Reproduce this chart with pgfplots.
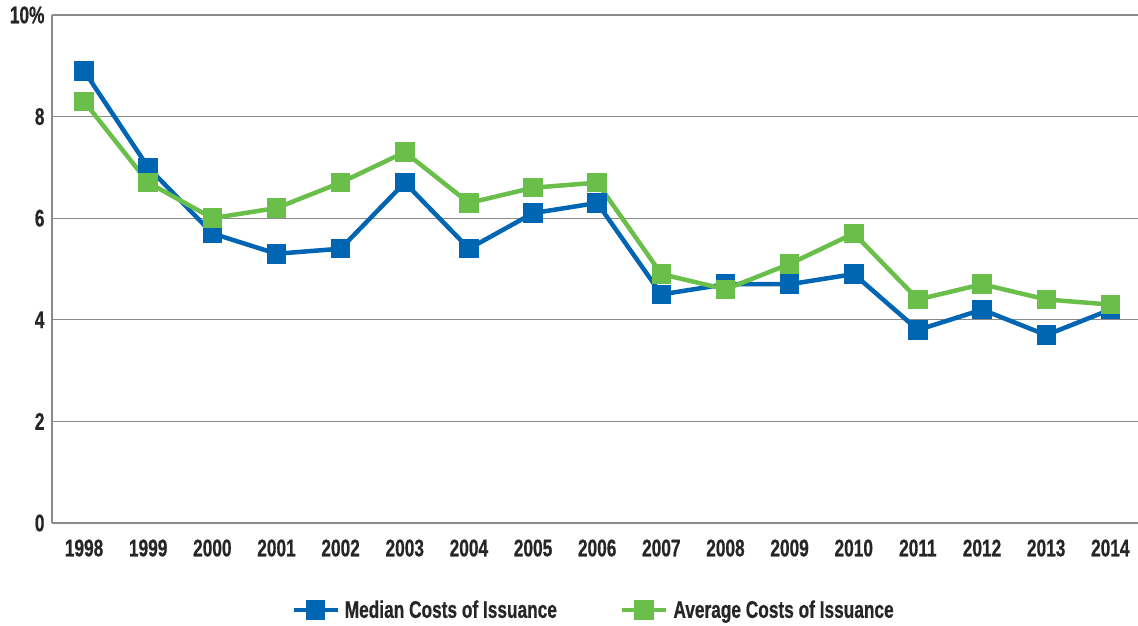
\documentclass[border=0pt]{standalone}
\usepackage{fontspec}
\setmainfont{Liberation Sans}[FakeStretch=0.72, BoldFeatures={FakeBold=0.6}]
\usepackage{pgfplots}
\pgfplotsset{compat=1.18}
\definecolor{cblue}{HTML}{0066B3}
\definecolor{cgreen}{HTML}{6ABF4B}
\definecolor{cgrid}{HTML}{8A8A8A}
\begin{document}
\begin{tikzpicture}[x=1pt,y=1pt]
\useasboundingbox (0,0) rectangle (1138,626);
\begin{axis}[
  at={(52pt,103pt)}, anchor=south west,
  scale only axis, width=1086pt, height=508pt,
  xmin=1997.5, xmax=2014.43,
  ymin=0, ymax=10,
  axis x line*=bottom, axis y line*=left,
  axis line style={cgrid, line width=1.3pt, -},
  xtick={1998,...,2014},
  xticklabels={1998,1999,2000,2001,2002,2003,2004,2005,2006,2007,2008,2009,2010,2011,2012,2013,2014},
  ytick={0,2,4,6,8,10},
  yticklabels={0,2,4,6,8,10\%},
  major tick length=0pt,
  ymajorgrids, grid style={cgrid, line width=1.2pt},
  ticklabel style={font=\fontsize{24}{27}\selectfont\bfseries, text=black!85},
  xticklabel style={yshift=-13pt},
  yticklabel style={xshift=-4pt},
  legend style={at={(0.5,-0.171)}, anchor=center, draw=none, fill=none,
    font=\fontsize{24}{27}\selectfont\bfseries, text=black!85,
    nodes={inner xsep=5pt}},
  legend columns=2,
  /tikz/every even column/.append style={column sep=58pt},
  legend image code/.code={\draw[#1, mark repeat=2, mark phase=2] plot coordinates {(0pt,0pt) (22pt,0pt) (44pt,0pt)};},
  clip=false,
]
\addplot[cblue, line width=4.5pt, mark=square*, mark size=7.5pt, mark options={solid}] coordinates {
(1998,8.9) (1999,7.0) (2000,5.7) (2001,5.3) (2002,5.4) (2003,6.7) (2004,5.4) (2005,6.1) (2006,6.3)
(2007,4.5) (2008,4.7) (2009,4.7) (2010,4.9) (2011,3.8) (2012,4.2) (2013,3.7) (2014,4.2)};
\addlegendentry{Median Costs of Issuance}
\addplot[cgreen, line width=4.5pt, mark=square*, mark size=7.5pt, mark options={solid}] coordinates {
(1998,8.3) (1999,6.7) (2000,6.0) (2001,6.2) (2002,6.7) (2003,7.3) (2004,6.3) (2005,6.6) (2006,6.7)
(2007,4.9) (2008,4.6) (2009,5.1) (2010,5.7) (2011,4.4) (2012,4.7) (2013,4.4) (2014,4.3)};
\addlegendentry{Average Costs of Issuance}
\end{axis}
\end{tikzpicture}
\end{document}
